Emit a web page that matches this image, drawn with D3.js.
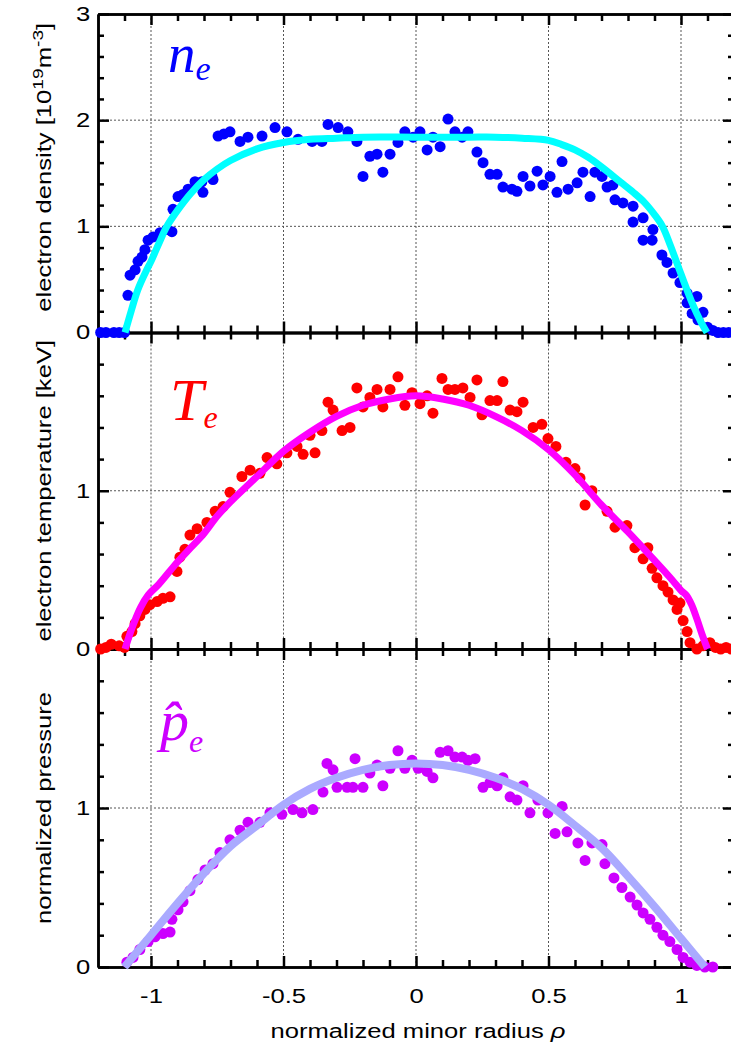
<!DOCTYPE html>
<html>
<head>
<meta charset="utf-8">
<script src="https://cdn.jsdelivr.net/npm/d3@7"></script>
<style>
  body { margin: 0; background: #fff; }
  svg { display: block; }
  .tick text { font-family: "Liberation Sans", Arial, sans-serif; }
</style>
</head>
<body>
<div id="chart"></div>
<script>
// tick positions (shared x axis)
const xMajor = [-1, -0.5, 0, 0.5, 1];
const xMinor = [-1.1, -0.9, -0.8, -0.7, -0.6, -0.4, -0.3, -0.2, -0.1, 0.1, 0.2, 0.3, 0.4, 0.6, 0.7, 0.8, 0.9, 1.1];
const xTickLabels = ["-1", "-0.5", "0", "0.5", "1"];

// electron density: measured points and fit
const neDots = [
  [-1.19,0],[-1.17,0],[-1.14,0],[-1.12,0],[-1.10,0],
  [-1.087,0.35],[-1.079,0.54],[-1.06,0.59],[-1.049,0.67],[-1.034,0.71],[-1.023,0.78],[-1.011,0.87],
  [-0.992,0.90],[-0.966,0.94],[-0.94,0.97],[-0.921,0.95],[-0.917,1.16],[-0.898,1.28],[-0.879,1.30],
  [-0.86,1.35],[-0.834,1.42],[-0.808,1.42],[-0.804,1.32],[-0.77,1.47],[-0.766,1.44],
  [-0.747,1.85],[-0.725,1.87],[-0.702,1.89],[-0.664,1.80],[-0.634,1.84],[-0.581,1.85],[-0.532,1.93],
  [-0.487,1.89],[-0.445,1.82],[-0.392,1.80],[-0.355,1.80],[-0.332,1.96],[-0.294,1.93],[-0.257,1.89],
  [-0.223,1.80],[-0.2,1.47],[-0.174,1.66],[-0.147,1.68],[-0.125,1.51],[-0.098,1.68],[-0.068,1.79],
  [-0.042,1.89],[-0.011,1.84],[0.015,1.89],[0.042,1.72],[0.064,1.84],[0.091,1.75],[0.121,2.01],
  [0.147,1.89],[0.174,1.84],[0.196,1.89],[0.23,1.70],[0.253,1.60],[0.279,1.49],[0.306,1.49],
  [0.328,1.37],[0.362,1.35],[0.381,1.33],[0.404,1.47],[0.43,1.38],[0.457,1.52],[0.479,1.39],
  [0.506,1.47],[0.532,1.32],[0.551,1.61],[0.574,1.35],[0.608,1.41],[0.63,1.51],[0.657,1.28],
  [0.675,1.51],[0.702,1.47],[0.721,1.37],[0.743,1.39],[0.751,1.25],[0.781,1.22],[0.819,1.19],
  [0.819,1.04],[0.857,1.08],[0.857,0.87],[0.891,0.87],[0.894,0.97],[0.928,0.73],[0.947,0.66],
  [0.97,0.56],[0.996,0.47],[1.023,0.37],[1.023,0.28],[1.042,0.18],[1.06,0.34],[1.064,0.12],
  [1.083,0.19],[1.10,0.05],[1.12,0.02],[1.14,0],[1.16,0],[1.18,0],[1.20,0]
];
const neFit = [
  [-1.098,0],[-1.075,0.2],[-1.05,0.4],[-1.02,0.57],[-1.0,0.67],[-0.97,0.84],[-0.94,1.0],[-0.9,1.15],
  [-0.85,1.31],[-0.8,1.44],[-0.75,1.54],[-0.7,1.62],[-0.6,1.73],[-0.5,1.79],[-0.4,1.82],[-0.3,1.83],
  [-0.2,1.84],[0,1.84],[0.2,1.84],[0.3,1.84],[0.4,1.83],[0.5,1.81],[0.55,1.77],[0.6,1.72],[0.65,1.65],
  [0.7,1.56],[0.77,1.42],[0.82,1.32],[0.86,1.23],[0.9,1.11],[0.93,1.0],[0.96,0.82],[1.0,0.55],
  [1.045,0.26],[1.075,0.1],[1.098,0]
];

// electron temperature
const teDots = [
  [-1.19,0],[-1.17,0.01],[-1.15,0.03],[-1.12,0.02],[-1.10,0.01],
  [-1.091,0.08],[-1.072,0.11],[-1.06,0.16],[-1.042,0.21],[-1.023,0.25],[-1.004,0.28],[-0.977,0.30],
  [-0.955,0.32],[-0.928,0.33],[-0.902,0.49],[-0.891,0.58],[-0.872,0.63],[-0.853,0.72],[-0.826,0.76],
  [-0.789,0.80],[-0.758,0.87],[-0.728,0.90],[-0.702,0.99],[-0.657,1.09],[-0.626,1.13],[-0.589,1.11],
  [-0.562,1.21],[-0.525,1.17],[-0.487,1.24],[-0.449,1.28],[-0.426,1.23],[-0.4,1.35],[-0.381,1.24],
  [-0.355,1.38],[-0.332,1.56],[-0.313,1.51],[-0.279,1.38],[-0.249,1.40],[-0.223,1.65],[-0.2,1.53],
  [-0.174,1.59],[-0.147,1.64],[-0.125,1.53],[-0.098,1.64],[-0.068,1.72],[-0.042,1.54],[-0.015,1.62],
  [0.015,1.55],[0.042,1.60],[0.064,1.49],[0.098,1.71],[0.121,1.64],[0.147,1.64],[0.177,1.65],
  [0.204,1.59],[0.23,1.70],[0.249,1.48],[0.279,1.57],[0.306,1.57],[0.328,1.69],[0.355,1.51],
  [0.381,1.50],[0.404,1.56],[0.442,1.40],[0.475,1.42],[0.498,1.33],[0.528,1.28],[0.566,1.18],
  [0.6,1.14],[0.619,1.08],[0.638,0.91],[0.664,1.0],[0.721,0.87],[0.751,0.77],[0.796,0.78],
  [0.826,0.64],[0.875,0.64],[0.857,0.57],[0.891,0.51],[0.909,0.45],[0.932,0.40],[0.951,0.36],
  [0.97,0.31],[0.985,0.25],[0.996,0.29],[1.008,0.18],[1.023,0.11],[1.034,0.04],[1.06,0.0],
  [1.083,0.02],[1.109,0.04],[1.13,0.01],[1.15,0],[1.17,0.01],[1.19,0]
];
const teFit = [
  [-1.098,0],[-1.07,0.14],[-1.04,0.26],[-1.011,0.34],[-0.97,0.41],[-0.9,0.55],[-0.85,0.64],
  [-0.8,0.73],[-0.75,0.84],[-0.7,0.93],[-0.6,1.09],[-0.5,1.25],[-0.4,1.37],[-0.3,1.47],[-0.2,1.54],
  [-0.1,1.58],[0,1.60],[0.1,1.58],[0.2,1.54],[0.3,1.47],[0.4,1.38],[0.5,1.26],[0.6,1.10],[0.7,0.91],
  [0.8,0.74],[0.9,0.56],[0.97,0.43],[1.0,0.37],[1.02,0.34],[1.04,0.28],[1.06,0.19],[1.08,0.09],[1.1,0]
];

// normalized pressure
const peDots = [
  [-1.091,0.03],[-1.068,0.06],[-1.042,0.11],[-1.011,0.16],[-0.985,0.19],[-0.955,0.21],[-0.928,0.22],
  [-0.921,0.30],[-0.898,0.36],[-0.879,0.41],[-0.853,0.48],[-0.823,0.55],[-0.796,0.61],[-0.766,0.65],
  [-0.74,0.72],[-0.702,0.80],[-0.664,0.86],[-0.634,0.91],[-0.589,0.91],[-0.551,0.97],[-0.506,0.96],
  [-0.464,0.99],[-0.43,0.97],[-0.389,0.99],[-0.351,1.10],[-0.336,1.28],[-0.313,1.24],[-0.298,1.13],
  [-0.26,1.13],[-0.238,1.13],[-0.23,1.31],[-0.2,1.13],[-0.174,1.22],[-0.147,1.27],[-0.125,1.14],
  [-0.098,1.25],[-0.068,1.36],[-0.042,1.25],[-0.015,1.30],[0.008,1.25],[0.042,1.23],[0.064,1.19],
  [0.091,1.35],[0.121,1.36],[0.147,1.32],[0.174,1.32],[0.196,1.30],[0.223,1.31],[0.253,1.13],
  [0.279,1.16],[0.306,1.14],[0.328,1.19],[0.355,1.07],[0.381,1.05],[0.404,1.14],[0.43,0.97],
  [0.46,1.05],[0.498,0.97],[0.551,1.01],[0.525,0.84],[0.57,0.85],[0.611,0.78],[0.638,0.67],
  [0.664,0.78],[0.702,0.77],[0.713,0.65],[0.747,0.56],[0.777,0.50],[0.808,0.44],[0.834,0.39],
  [0.857,0.34],[0.883,0.30],[0.909,0.25],[0.932,0.20],[0.958,0.16],[0.985,0.11],[1.008,0.06],
  [1.034,0.03],[1.06,0.01],[1.09,0],[1.12,0]
];
const peFit = [
  [-1.1,0],[-1.0,0.2],[-0.9,0.40],[-0.8,0.59],[-0.7,0.76],[-0.6,0.89],[-0.5,1.02],[-0.4,1.12],
  [-0.3,1.19],[-0.2,1.24],[-0.1,1.27],[0,1.28],[0.1,1.27],[0.2,1.24],[0.3,1.19],[0.4,1.12],
  [0.5,1.02],[0.6,0.89],[0.7,0.75],[0.8,0.57],[0.9,0.38],[1.0,0.18],[1.09,0]
];

const width = 731, height = 1045;
const left = 98, right = 734;
const stretch = 1.28; // labels in the figure are drawn wide

const svg = d3.select("#chart").append("svg")
  .attr("width", width).attr("height", height);

const x = d3.scaleLinear().domain([-1.2, 1.2]).range([left, right]);

const panels = [
  { top: 14, bottom: 332.5, max: 3, dots: neDots, fit: neFit, dotColor: "#0000ff", lineColor: "#00ffff", lineWidth: 7,
    yLabels: [0, 1, 2, 3], grid: [1, 2] },
  { top: 332.5, bottom: 649, max: 2, dots: teDots, fit: teFit, dotColor: "#ff0000", lineColor: "#ff00ff", lineWidth: 7,
    yLabels: [0, 1], grid: [1] },
  { top: 649, bottom: 967, max: 2, dots: peDots, fit: peFit, dotColor: "#cc00ff", lineColor: "#aaaaff", lineWidth: 8,
    yLabels: [0, 1], grid: [1] }
];

panels.forEach((p, i) => {
  const y = d3.scaleLinear().domain([0, p.max]).range([p.bottom, p.top]);
  p.y = y;
  const g = svg.append("g");

  // dotted grid
  g.selectAll(".gx").data(xMajor).join("line")
    .attr("x1", d => x(d)).attr("x2", d => x(d))
    .attr("y1", p.top).attr("y2", p.bottom)
    .attr("stroke", "#555").attr("stroke-width", 1).attr("stroke-dasharray", "2,2");
  g.selectAll(".gy").data(p.grid).join("line")
    .attr("x1", left).attr("x2", right)
    .attr("y1", d => y(d)).attr("y2", d => y(d))
    .attr("stroke", "#555").attr("stroke-width", 1).attr("stroke-dasharray", "2,2");

  const yMajor = d3.range(0, p.max + 0.01, 1);
  const yMinor = d3.range(0.2, p.max, 0.2).filter(v => Math.abs(v - Math.round(v)) > 0.01);

  const styleAxis = sel => {
    sel.select(".domain").attr("stroke", "#000").attr("stroke-width", 2.5);
    sel.selectAll(".tick line").attr("stroke", "#000").attr("stroke-width", 2.5);
    sel.selectAll(".tick text").attr("font-size", 20).attr("fill", "#000")
      .attr("transform", `scale(${stretch},1)`);
  };

  // left axis with labels
  g.append("g").attr("transform", `translate(${left},0)`)
    .call(d3.axisLeft(y).tickValues(yMajor).tickSizeInner(-11).tickSizeOuter(0).tickPadding(6)
      .tickFormat(d => p.yLabels.includes(d) ? d3.format("d")(d) : ""))
    .call(styleAxis);
  g.append("g").attr("transform", `translate(${left},0)`)
    .call(d3.axisLeft(y).tickValues(yMinor).tickSizeInner(-6).tickSizeOuter(0).tickFormat(""))
    .call(styleAxis);
  // right ticks
  g.append("g").attr("transform", `translate(${right},0)`)
    .call(d3.axisRight(y).tickValues(yMajor).tickSizeInner(-11).tickSizeOuter(0).tickFormat(""))
    .call(styleAxis);
  g.append("g").attr("transform", `translate(${right},0)`)
    .call(d3.axisRight(y).tickValues(yMinor).tickSizeInner(-6).tickSizeOuter(0).tickFormat(""))
    .call(styleAxis);

  // top ticks (inward)
  g.append("g").attr("transform", `translate(0,${p.top})`)
    .call(d3.axisTop(x).tickValues(xMajor).tickSizeInner(-11).tickSizeOuter(0).tickFormat(""))
    .call(styleAxis);
  g.append("g").attr("transform", `translate(0,${p.top})`)
    .call(d3.axisTop(x).tickValues(xMinor).tickSizeInner(-7).tickSizeOuter(0).tickFormat(""))
    .call(styleAxis);
  // bottom ticks (inward), labels on last panel
  const last = i === panels.length - 1;
  g.append("g").attr("transform", `translate(0,${p.bottom})`)
    .call(d3.axisBottom(x).tickValues(xMajor).tickSizeInner(-11).tickSizeOuter(0).tickPadding(22)
      .tickFormat((d, k) => last ? xTickLabels[k] : ""))
    .call(styleAxis);
  g.append("g").attr("transform", `translate(0,${p.bottom})`)
    .call(d3.axisBottom(x).tickValues(xMinor).tickSizeInner(-7).tickSizeOuter(0).tickFormat(""))
    .call(styleAxis);
});

// data and fits on top
panels.forEach(p => {
  const g = svg.append("g");
  g.selectAll("circle").data(p.dots).join("circle")
    .attr("cx", d => x(d[0])).attr("cy", d => p.y(d[1]))
    .attr("r", 5.5).attr("fill", p.dotColor);
  const line = d3.line().x(d => x(d[0])).y(d => p.y(d[1])).curve(d3.curveCatmullRom.alpha(0.5));
  g.append("path").datum(p.fit).attr("d", line)
    .attr("fill", "none").attr("stroke", p.lineColor).attr("stroke-width", p.lineWidth)
    .attr("stroke-linejoin", "round");
});

// y axis titles
const sans = "'Liberation Sans', Arial, sans-serif";
const t1 = svg.append("text")
  .attr("transform", `translate(51,${(panels[0].top + panels[0].bottom) / 2 - 6}) rotate(-90) scale(${stretch},1)`)
  .attr("text-anchor", "middle").attr("font-family", sans).attr("font-size", 20);
t1.append("tspan").text("electron density [10");
t1.append("tspan").attr("font-size", 15).attr("dy", -8).text("19");
t1.append("tspan").attr("dy", 8).text("m");
t1.append("tspan").attr("font-size", 15).attr("dy", -8).text("-3");
t1.append("tspan").attr("dy", 8).text("]");

svg.append("text")
  .attr("transform", `translate(51,${(panels[1].top + panels[1].bottom) / 2}) rotate(-90) scale(${stretch},1)`)
  .attr("text-anchor", "middle").attr("font-family", sans).attr("font-size", 20)
  .text("electron temperature [keV]");

svg.append("text")
  .attr("transform", `translate(51,${(panels[2].top + panels[2].bottom) / 2}) rotate(-90) scale(${stretch},1)`)
  .attr("text-anchor", "middle").attr("font-family", sans).attr("font-size", 20)
  .text("normalized pressure");

// x axis title
const xt = svg.append("text")
  .attr("transform", `translate(418,1038) scale(${stretch},1)`).attr("text-anchor", "middle")
  .attr("font-family", sans).attr("font-size", 20);
xt.append("tspan").text("normalized minor radius  ");
xt.append("tspan").attr("font-style", "italic").text("ρ");

// panel symbols
const serif = "'Liberation Serif', 'Times New Roman', serif";
const s1 = svg.append("text").attr("x", 168).attr("y", 72)
  .attr("font-family", serif).attr("font-style", "italic").attr("font-size", 55).attr("fill", "#0000ff");
s1.append("tspan").text("n");
s1.append("tspan").attr("font-size", 34).attr("dy", 8).text("e");

const s2 = svg.append("text").attr("x", 170).attr("y", 420)
  .attr("font-family", serif).attr("font-style", "italic").attr("font-size", 60).attr("fill", "#ff0000");
s2.append("tspan").text("T");
s2.append("tspan").attr("font-size", 32).attr("dy", 8).text("e");

// p with a combining circumflex, subscript e
const s3 = svg.append("text").attr("x", 160).attr("y", 740)
  .attr("font-family", serif).attr("font-style", "italic").attr("font-size", 58).attr("fill", "#cc00ff");
s3.append("tspan").text("p\u0302");
s3.append("tspan").attr("font-size", 32).attr("dy", 12).text("e");
</script>
</body>
</html>
